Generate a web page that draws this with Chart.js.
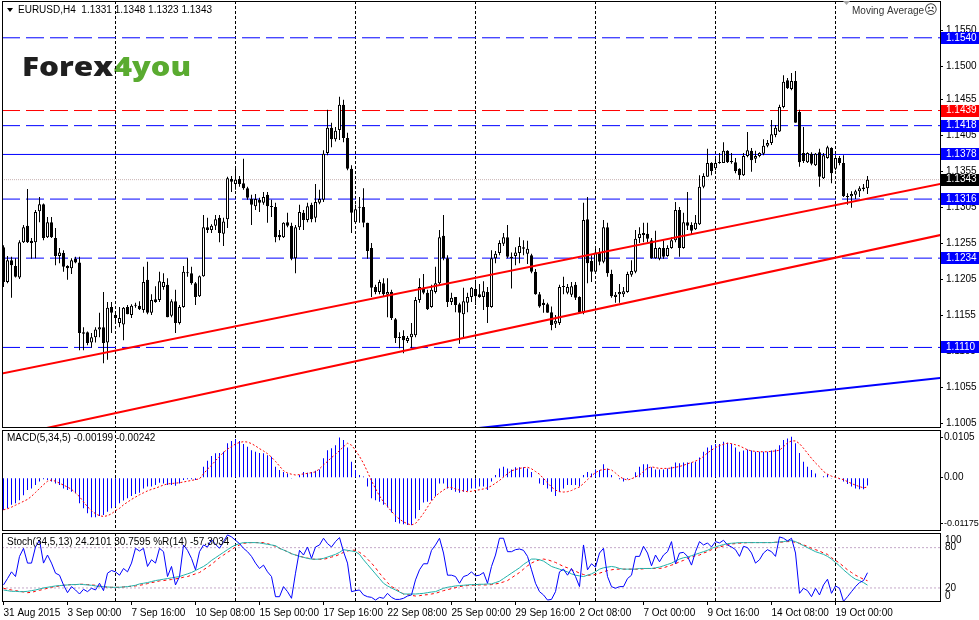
<!DOCTYPE html>
<html>
<head>
<meta charset="utf-8">
<script src="https://cdn.jsdelivr.net/npm/chart.js@4.4.1/dist/chart.umd.min.js"></script>
<style>
html, body { margin: 0; padding: 0; background: #fff; }
#wrap { position: relative; width: 979px; height: 620px; overflow: hidden; background: #fff; }
.pane { position: absolute; left: 0; width: 979px; }
</style>
</head>
<body>
<div id="wrap">
  <div class="pane" style="top:0;height:429px"><canvas id="mainChart"></canvas></div>
  <div class="pane" style="top:429px;height:103px"><canvas id="macdChart"></canvas></div>
  <div class="pane" style="top:532px;height:88px"><canvas id="stochChart"></canvas></div>
</div>
<script>
// EURUSD H4, one row per bar: open, high, low, close
var ohlc = [
  [1.1249,1.1252,1.1194,1.1201],[1.1201,1.1237,1.1199,1.1231],[1.1231,1.1236,1.1179,1.1224],[1.1223,1.1234,1.1207,1.1208],[1.1207,1.1259,1.1205,1.1256],
  [1.1256,1.1280,1.1255,1.1277],[1.1279,1.1330,1.1255,1.1256],[1.1258,1.1262,1.1233,1.1255],[1.1256,1.1301,1.1234,1.1298],[1.1299,1.1319,1.1284,1.1309],
  [1.1309,1.1310,1.1259,1.1262],[1.1263,1.1291,1.1262,1.1284],[1.1284,1.1291,1.1262,1.1263],[1.1262,1.1276,1.1224,1.1237],[1.1237,1.1248,1.1227,1.1242],
  [1.1241,1.1245,1.1215,1.1222],[1.1223,1.1224,1.1204,1.1220],[1.1220,1.1234,1.1212,1.1231],[1.1233,1.1236,1.1227,1.1228],[1.1228,1.1236,1.1106,1.1130],
  [1.1129,1.1138,1.1106,1.1131],[1.1131,1.1132,1.1113,1.1116],[1.1117,1.1130,1.1110,1.1124],[1.1124,1.1138,1.1117,1.1135],[1.1135,1.1158,1.1124,1.1138],
  [1.1138,1.1187,1.1088,1.1116],[1.1117,1.1173,1.1093,1.1165],[1.1166,1.1173,1.1130,1.1158],[1.1155,1.1158,1.1144,1.1151],[1.1144,1.1166,1.1138,1.1151],
  [1.1142,1.1166,1.1120,1.1165],[1.1166,1.1169,1.1156,1.1156],[1.1155,1.1170,1.1151,1.1168],[1.1169,1.1172,1.1165,1.1168],[1.1168,1.1174,1.1162,1.1163],
  [1.1162,1.1222,1.1158,1.1201],[1.1204,1.1229,1.1156,1.1158],[1.1158,1.1184,1.1155,1.1176],[1.1177,1.1195,1.1172,1.1173],[1.1176,1.1215,1.1173,1.1202],
  [1.1194,1.1213,1.1190,1.1201],[1.1197,1.1206,1.1152,1.1152],[1.1154,1.1177,1.1152,1.1174],[1.1174,1.1190,1.1130,1.1144],[1.1144,1.1169,1.1142,1.1166],
  [1.1166,1.1223,1.1165,1.1215],[1.1214,1.1234,1.1208,1.1213],[1.1213,1.1222,1.1197,1.1199],[1.1199,1.1201,1.1169,1.1180],[1.1181,1.1210,1.1180,1.1209],
  [1.1209,1.1294,1.1208,1.1277],[1.1277,1.1290,1.1269,1.1273],[1.1273,1.1281,1.1269,1.1279],[1.1279,1.1294,1.1273,1.1288],[1.1290,1.1294,1.1256,1.1269],
  [1.1268,1.1290,1.1251,1.1285],[1.1288,1.1347,1.1276,1.1345],[1.1344,1.1348,1.1326,1.1340],[1.1337,1.1358,1.1329,1.1343],[1.1344,1.1348,1.1333,1.1337],
  [1.1338,1.1372,1.1329,1.1331],[1.1331,1.1333,1.1315,1.1318],[1.1316,1.1322,1.1280,1.1308],[1.1306,1.1323,1.1301,1.1316],[1.1315,1.1318,1.1298,1.1311],
  [1.1311,1.1326,1.1308,1.1319],[1.1322,1.1326,1.1283,1.1306],[1.1306,1.1315,1.1291,1.1305],[1.1305,1.1311,1.1256,1.1263],[1.1266,1.1273,1.1259,1.1263],
  [1.1263,1.1284,1.1262,1.1283],[1.1284,1.1297,1.1277,1.1279],[1.1279,1.1283,1.1231,1.1233],[1.1234,1.1280,1.1213,1.1277],[1.1277,1.1308,1.1273,1.1298],
  [1.1297,1.1301,1.1273,1.1287],[1.1287,1.1311,1.1284,1.1306],[1.1308,1.1311,1.1284,1.1288],[1.1290,1.1337,1.1284,1.1312],[1.1311,1.1329,1.1309,1.1316],
  [1.1315,1.1384,1.1312,1.1379],[1.1380,1.1440,1.1377,1.1415],[1.1415,1.1422,1.1388,1.1399],[1.1399,1.1416,1.1396,1.1411],[1.1412,1.1458,1.1398,1.1447],
  [1.1447,1.1454,1.1395,1.1401],[1.1401,1.1408,1.1356,1.1358],[1.1358,1.1363,1.1269,1.1297],[1.1284,1.1308,1.1283,1.1302],[1.1305,1.1319,1.1283,1.1304],
  [1.1305,1.1331,1.1277,1.1283],[1.1283,1.1283,1.1233,1.1244],[1.1248,1.1255,1.1180,1.1193],[1.1194,1.1197,1.1184,1.1187],[1.1187,1.1204,1.1184,1.1201],
  [1.1199,1.1206,1.1180,1.1184],[1.1183,1.1206,1.1152,1.1187],[1.1187,1.1190,1.1148,1.1151],[1.1149,1.1151,1.1116,1.1123],[1.1124,1.1131,1.1109,1.1123],
  [1.1126,1.1134,1.1102,1.1120],[1.1119,1.1126,1.1116,1.1123],[1.1124,1.1144,1.1109,1.1129],[1.1127,1.1180,1.1124,1.1176],[1.1176,1.1206,1.1172,1.1194],
  [1.1193,1.1212,1.1184,1.1186],[1.1186,1.1190,1.1162,1.1163],[1.1166,1.1197,1.1165,1.1190],[1.1187,1.1222,1.1185,1.1199],[1.1199,1.1273,1.1197,1.1263],
  [1.1265,1.1294,1.1231,1.1234],[1.1234,1.1238,1.1166,1.1173],[1.1173,1.1186,1.1169,1.1179],[1.1180,1.1180,1.1159,1.1169],[1.1170,1.1172,1.1115,1.1158],
  [1.1156,1.1193,1.1124,1.1174],[1.1172,1.1186,1.1159,1.1180],[1.1180,1.1194,1.1173,1.1193],[1.1191,1.1204,1.1169,1.1181],[1.1184,1.1198,1.1179,1.1180],
  [1.1180,1.1202,1.1162,1.1188],[1.1187,1.1194,1.1144,1.1166],[1.1166,1.1245,1.1165,1.1234],[1.1234,1.1244,1.1227,1.1240],[1.1241,1.1259,1.1238,1.1255],
  [1.1254,1.1269,1.1251,1.1263],[1.1263,1.1280,1.1234,1.1236],[1.1236,1.1242,1.1192,1.1234],[1.1237,1.1249,1.1224,1.1242],[1.1241,1.1263,1.1227,1.1251],
  [1.1249,1.1259,1.1238,1.1247],[1.1240,1.1258,1.1226,1.1247],[1.1238,1.1240,1.1213,1.1215],[1.1215,1.1219,1.1183,1.1184],[1.1184,1.1187,1.1165,1.1167],
  [1.1172,1.1177,1.1158,1.1169],[1.1170,1.1172,1.1158,1.1158],[1.1159,1.1167,1.1134,1.1141],[1.1143,1.1155,1.1137,1.1147],[1.1144,1.1197,1.1141,1.1194],
  [1.1195,1.1208,1.1184,1.1194],[1.1186,1.1198,1.1184,1.1194],[1.1183,1.1201,1.1180,1.1195],[1.1197,1.1201,1.1176,1.1179],[1.1180,1.1181,1.1158,1.1159],
  [1.1159,1.1311,1.1156,1.1287],[1.1288,1.1319,1.1199,1.1227],[1.1230,1.1238,1.1201,1.1215],[1.1215,1.1247,1.1213,1.1242],[1.1241,1.1248,1.1224,1.1229],
  [1.1229,1.1287,1.1227,1.1277],[1.1277,1.1283,1.1208,1.1213],[1.1212,1.1218,1.1179,1.1181],[1.1180,1.1187,1.1172,1.1183],[1.1184,1.1198,1.1172,1.1187],
  [1.1184,1.1194,1.1180,1.1188],[1.1187,1.1215,1.1186,1.1212],[1.1211,1.1231,1.1208,1.1216],[1.1215,1.1273,1.1213,1.1261],[1.1262,1.1277,1.1255,1.1268],
  [1.1266,1.1283,1.1256,1.1269],[1.1268,1.1283,1.1256,1.1261],[1.1259,1.1262,1.1233,1.1234],[1.1234,1.1272,1.1233,1.1248],[1.1233,1.1249,1.1231,1.1248],
  [1.1248,1.1259,1.1233,1.1236],[1.1237,1.1252,1.1236,1.1248],[1.1248,1.1263,1.1247,1.1259],[1.1259,1.1312,1.1256,1.1301],[1.1301,1.1305,1.1236,1.1248],
  [1.1248,1.1297,1.1247,1.1284],[1.1284,1.1326,1.1273,1.1279],[1.1280,1.1284,1.1266,1.1272],[1.1274,1.1294,1.1273,1.1283],[1.1281,1.1349,1.1280,1.1333],
  [1.1333,1.1352,1.1331,1.1348],[1.1347,1.1386,1.1347,1.1366],[1.1366,1.1367,1.1349,1.1355],[1.1359,1.1376,1.1356,1.1366],[1.1366,1.1380,1.1365,1.1367],
  [1.1366,1.1395,1.1366,1.1383],[1.1383,1.1384,1.1366,1.1367],[1.1369,1.1380,1.1365,1.1367],[1.1367,1.1373,1.1352,1.1355],[1.1358,1.1359,1.1343,1.1349],
  [1.1349,1.1380,1.1348,1.1376],[1.1376,1.1409,1.1374,1.1384],[1.1383,1.1387,1.1354,1.1370],[1.1372,1.1383,1.1366,1.1376],[1.1376,1.1381,1.1374,1.1380],
  [1.1379,1.1399,1.1377,1.1390],[1.1390,1.1398,1.1388,1.1394],[1.1394,1.1426,1.1391,1.1406],[1.1405,1.1419,1.1402,1.1415],[1.1410,1.1447,1.1409,1.1444],
  [1.1444,1.1488,1.1442,1.1479],[1.1481,1.1484,1.1469,1.1470],[1.1469,1.1491,1.1467,1.1480],[1.1480,1.1494,1.1422,1.1422],[1.1437,1.1440,1.1361,1.1367],
  [1.1380,1.1416,1.1366,1.1369],[1.1367,1.1381,1.1366,1.1380],[1.1379,1.1381,1.1363,1.1365],[1.1363,1.1380,1.1362,1.1379],[1.1381,1.1386,1.1333,1.1347],
  [1.1345,1.1380,1.1344,1.1377],[1.1373,1.1390,1.1372,1.1388],[1.1387,1.1388,1.1338,1.1352],[1.1358,1.1377,1.1356,1.1373],[1.1373,1.1376,1.1363,1.1366],
  [1.1366,1.1377,1.1319,1.1320],[1.1320,1.1324,1.1308,1.1319],[1.1320,1.1327,1.1304,1.1323],[1.1322,1.1329,1.1316,1.1327],[1.1327,1.1334,1.1319,1.1331],
  [1.1332,1.1337,1.1327,1.1330],[1.1331,1.1348,1.1323,1.1343]
];

var macdMain = [
  -0.0083,-0.0079,-0.0070,-0.0066,-0.0058,-0.0045,-0.0032,-0.0028,-0.0019,-0.0010,
  -0.0004,-0.0006,-0.0010,-0.0015,-0.0019,-0.0028,-0.0032,-0.0036,-0.0040,-0.0066,
  -0.0079,-0.0092,-0.0102,-0.0102,-0.0099,-0.0096,-0.0088,-0.0079,-0.0075,-0.0066,
  -0.0059,-0.0053,-0.0047,-0.0042,-0.0039,-0.0028,-0.0023,-0.0023,-0.0019,-0.0013,
  -0.0015,-0.0019,-0.0019,-0.0021,-0.0015,-0.0006,-0.0004,-0.0004,-0.0006,-0.0002,
  0.0028,0.0044,0.0056,0.0063,0.0064,0.0067,0.0089,0.0095,0.0100,0.0095,
  0.0087,0.0080,0.0071,0.0067,0.0064,0.0063,0.0058,0.0054,0.0028,0.0020,
  0.0015,0.0011,-0.0002,0.0001,0.0007,0.0015,0.0013,0.0015,0.0018,0.0021,
  0.0050,0.0071,0.0076,0.0084,0.0104,0.0097,0.0078,0.0041,0.0020,0.0007,
  0.0003,-0.0023,-0.0053,-0.0058,-0.0062,-0.0070,-0.0077,-0.0090,-0.0114,-0.0118,
  -0.0120,-0.0122,-0.0122,-0.0105,-0.0083,-0.0064,-0.0062,-0.0058,-0.0047,-0.0015,
  -0.0015,-0.0028,-0.0032,-0.0036,-0.0039,-0.0036,-0.0034,-0.0028,-0.0028,-0.0023,
  -0.0023,-0.0032,-0.0010,0.0007,0.0024,0.0028,0.0024,0.0021,0.0027,0.0027,
  0.0027,0.0024,0.0015,0.0001,-0.0015,-0.0019,-0.0028,-0.0036,-0.0047,-0.0036,
  -0.0028,-0.0019,-0.0019,-0.0019,-0.0023,0.0007,0.0015,0.0011,0.0021,0.0020,
  0.0035,0.0024,0.0007,0.0001,-0.0004,-0.0010,-0.0004,-0.0002,0.0014,0.0028,
  0.0035,0.0035,0.0027,0.0021,0.0021,0.0021,0.0024,0.0028,0.0039,0.0037,
  0.0039,0.0039,0.0039,0.0041,0.0052,0.0067,0.0078,0.0084,0.0087,0.0087,
  0.0093,0.0090,0.0087,0.0078,0.0067,0.0070,0.0073,0.0070,0.0067,0.0067,
  0.0067,0.0067,0.0070,0.0073,0.0084,0.0097,0.0101,0.0106,0.0089,0.0064,
  0.0041,0.0028,0.0020,0.0011,0.0001,0.0004,0.0009,-0.0002,0.0000,-0.0004,
  -0.0010,-0.0016,-0.0023,-0.0028,-0.0030,-0.0030,-0.00199
];

var macdSignal = [
  -0.0083,-0.0080,-0.0076,-0.0071,-0.0066,-0.0061,-0.0056,-0.0048,-0.0038,-0.0028,
  -0.0018,-0.0009,-0.0006,-0.0009,-0.0014,-0.0019,-0.0024,-0.0030,-0.0039,-0.0049,
  -0.0062,-0.0075,-0.0085,-0.0093,-0.0098,-0.0100,-0.0098,-0.0093,-0.0085,-0.0079,
  -0.0070,-0.0063,-0.0056,-0.0050,-0.0044,-0.0039,-0.0034,-0.0030,-0.0027,-0.0023,
  -0.0019,-0.0016,-0.0015,-0.0014,-0.0013,-0.0011,-0.0009,-0.0007,-0.0005,-0.0003,
  0.0010,0.0022,0.0032,0.0044,0.0055,0.0065,0.0074,0.0080,0.0087,0.0091,
  0.0093,0.0092,0.0088,0.0082,0.0075,0.0069,0.0062,0.0053,0.0042,0.0030,
  0.0018,0.0012,0.0009,0.0007,0.0008,0.0010,0.0011,0.0013,0.0015,0.0023,
  0.0033,0.0042,0.0052,0.0060,0.0070,0.0080,0.0089,0.0084,0.0071,0.0055,
  0.0037,0.0015,-0.0008,-0.0028,-0.0047,-0.0062,-0.0074,-0.0087,-0.0098,-0.0107,
  -0.0114,-0.0119,-0.0122,-0.0118,-0.0106,-0.0092,-0.0076,-0.0060,-0.0048,-0.0039,
  -0.0032,-0.0025,-0.0025,-0.0029,-0.0032,-0.0034,-0.0036,-0.0035,-0.0033,-0.0031,
  -0.0029,-0.0026,-0.0021,-0.0014,-0.0007,0.0002,0.0010,0.0018,0.0021,0.0024,
  0.0026,0.0027,0.0023,0.0016,0.0009,-0.0002,-0.0013,-0.0024,-0.0032,-0.0036,
  -0.0037,-0.0036,-0.0033,-0.0028,-0.0024,-0.0015,-0.0005,0.0005,0.0013,0.0019,
  0.0021,0.0022,0.0020,0.0012,0.0003,-0.0003,-0.0006,-0.0003,0.0002,0.0007,
  0.0016,0.0025,0.0028,0.0026,0.0024,0.0024,0.0024,0.0025,0.0027,0.0029,
  0.0032,0.0036,0.0039,0.0043,0.0047,0.0055,0.0064,0.0071,0.0078,0.0083,
  0.0086,0.0089,0.0088,0.0085,0.0082,0.0077,0.0072,0.0069,0.0068,0.0067,
  0.0067,0.0067,0.0068,0.0069,0.0071,0.0080,0.0090,0.0095,0.0095,0.0088,
  0.0076,0.0063,0.0050,0.0038,0.0028,0.0016,0.0009,0.0004,0.0001,-0.0002,
  -0.0005,-0.0010,-0.0015,-0.0019,-0.0023,-0.0026,-0.00242
];

var stochMain = [
  17,16,15,15,14.5,14.5,15,16,17,18.5,
  20,21,22,23,23.5,24,24.5,25,25,25.5,
  25,24.5,24,23,22,22,21.5,21,21,21,
  21.5,22,23,24,26,27,28,29.5,31,32,
  33,34,35,36,37,39,41,43,46,49,
  52,56,61,65,69,73,77,81,84,86,
  87.5,87.5,87.5,87.5,87,86,85,84,83,79,
  76.5,74,71,69,67,65.6,64,63,62.7,63,
  64,66,68,70,73,77,76,75,74,70,
  62,55,48,41,34,27,23,20,17,14,
  11,11,11,11,11.5,12,13,14,14.5,17,
  19.5,21,22,23,23.5,24,24.5,25,25,25.5,
  25.5,26,26,28,30,34,38,42,46,50,
  55,59,63,63,62,60,56,52,50,48,
  46,44,41,39,38,37,39,41,44,48,
  50,51,52,51,49,48,48,48,48,49,
  49,49,49,50,51,53,55,57,60,63,
  65,66,68,70,72,74,76,79,81,83,
  84.5,86,86.5,87,87.5,87.5,87.5,87.5,87.5,87.5,
  87.5,87.5,87.5,88,88.5,89,90,90.5,89,86,
  83,80,77,74,72,70,67,63,58,53,
  47,42,37,33,31,28,24.2101
];

var stochSignal = [
  19.5,18,17,16,15,14,13,13.5,15,16.5,
  18,19.5,21,22,23,24,24.5,25,25,25.5,
  25.5,25,24.5,24,23,22,21,21,21,21,
  21.5,22,22.5,23,24,25,26.5,28,29,30.5,
  31,32,32.5,33.5,34.5,36,37,39,41,43,
  47,51,55,60,65,69,73,77,81,84,
  86.5,87,87.5,87.5,87.5,87.5,86,84,82,79,
  76.5,74,71,69,67.5,65.6,64.5,63,62.7,62.7,
  62.7,64,66,67.5,70,73,75,76.5,76,73,
  69,63,57,50,42,35,28,22,19,15,
  11,10,9,8,8.5,9.5,10,11,12,14,
  16,17.5,19,20.5,22,23,23.5,24,24.5,24.5,
  24.5,24.5,25,26,27,29,31,35,39,43,
  48,53,57,60,62,63,62,60,58,55,
  52,50,47,45,42,40,39,39,40,42,
  44,46,47,48,48,48,48,48,48,48,
  48.5,49,49,49,49,50,52,54,56,59,
  61,64,66,68,69,72,74,77,79,81,
  82.5,84,85.5,86,86.5,87,87.5,87.5,87.5,87.5,
  87.5,87.5,87.5,88,88,88.5,89,89,88,86.5,
  84,82,79,77,75,72,70,65,61,57,
  52,47,43,39,36,33,30.7595
];

// Williams %R(14), native range -100..0, drawn in the same window
var willR = [
  -75.5,-66,-56,-63,-33,-21,-43,-43,-19,-9,
  -43,-31,-43,-58,-61,-75.5,-87,-78,-83,-89,
  -82,-85.5,-80.5,-83,-73,-84,-58,-54,-56,-61,
  -51,-56,-43,-21,-25,-21,-48,-38,-43,-21,
  -26,-63,-48,-75.5,-63,-16,-24,-36,-53,-26,
  -16,-19,-8,-15,-21,-11,-1,-4,-9,-14,
  -21,-26,-33,-43,-51,-46,-56,-63,-93,-93,
  -78,-85.5,-95.4,-58,-24,-31,-19,-36,-19,-16,
  -6,-14,-19,-11,-5,-26,-43,-85.5,-84,-83,
  -90.4,-93,-94,-98,-94,-95.4,-88,-94,-97,-97,
  -95.4,-92,-90.4,-68,-53,-44,-44,-24,-16,-6,
  -28,-61,-61,-63,-73,-63,-61,-56,-62,-61,
  -57,-73,-48,-31,-6,-6,-26,-26,-23,-22,
  -24,-33,-53,-73,-85.5,-90.4,-98,-97,-85.5,-56,
  -52,-61,-51,-63,-78,-16,-53,-44,-49,-28,
  -21,-63,-78,-80.5,-78,-78,-66,-61,-33,-33,
  -18,-28,-47,-31,-41,-31,-26,-11,-44,-28,
  -27,-33,-46,-26,-11,-16,-13,-19,-11,-13,
  -9,-16,-19,-23,-33,-18,-20,-28,-43,-38,
  -28,-23,-26,-33,-4,-6,-10,-6,-28,-88,
  -80.5,-84,-93,-80.5,-90.4,-75.5,-67,-88,-77,-80.5,
  -100,-93,-85.5,-78,-72,-69,-57.3034
];

var xLabels = ['31 Aug 2015', '3 Sep 00:00', '7 Sep 16:00', '10 Sep 08:00', '15 Sep 00:00', '17 Sep 16:00',
  '22 Sep 08:00', '25 Sep 00:00', '29 Sep 16:00', '2 Oct 08:00', '7 Oct 00:00', '9 Oct 16:00',
  '14 Oct 08:00', '19 Oct 00:00'];
var LABEL_STEP = 16;
var weekStarts = [28, 58, 88, 118, 148, 178, 208];

var priceTicks = [1.1550, 1.1500, 1.1455, 1.1405, 1.1355, 1.1305, 1.1255, 1.1205, 1.1155, 1.1105, 1.1055, 1.1005];
var macdTicks = [0.0105, 0, -0.01175];
var macdTickLabels = ['0.0105', '0.00', '-0.01175'];
var stochTicks = [100, 80, 20, 0];
var stochLevels = [80, 20];

var blueDashLevels = [1.1540, 1.1418, 1.1316, 1.1234, 1.1110];
var redDashLevels = [1.1439];
var blueSolidLevels = [1.1378];

// trend lines as [bar, price] anchor pairs
var channelUpper = [[-1, 1.1073], [235, 1.1338]];
var channelLower = [[-1, 1.0984], [235, 1.1267]];
var longTrend = [[-1, 1.0926], [235, 1.1068]];

var SYMBOL = 'EURUSD,H4';
var X_MIN = -0.375, X_MAX = 234.125;
var FONT = '10px "Liberation Sans", Arial, sans-serif';

Chart.defaults.font.family = '"Liberation Sans", Arial, sans-serif';
Chart.defaults.font.size = 10;
Chart.defaults.color = '#000';

var last = ohlc.length - 1;

function rightAxisFit(s) {
  s.width = 39;
  s.paddingTop = 0;
  s.paddingBottom = 0;
}

function xAxis(show) {
  return {
    type: 'linear', min: X_MIN, max: X_MAX, bounds: 'data', offset: false, display: show,
    grid: { display: show, drawOnChartArea: false, drawTicks: true, tickLength: 3, color: '#000', offset: false },
    border: { display: false },
    ticks: {
      autoSkip: false, maxRotation: 0, minRotation: 0, align: 'start', padding: 2,
      callback: function (v) { return xLabels[Math.round(v / LABEL_STEP)]; }
    },
    afterBuildTicks: function (s) {
      s.ticks = xLabels.map(function (t, k) { return { value: k * LABEL_STEP }; });
    },
    afterFit: function (s) {
      s.height = show ? 18 : 0;
      s.paddingLeft = 0;
      s.paddingRight = 0;
    }
  };
}

function baseOptions(padBottom) {
  return {
    animation: false,
    responsive: true,
    maintainAspectRatio: false,
    devicePixelRatio: 1,
    events: [],
    layout: { padding: { left: 2, top: 1, right: 0, bottom: padBottom } },
    plugins: { legend: { display: false }, tooltip: { enabled: false } }
  };
}

function hline(v, color, dash, order) {
  return {
    type: 'line', data: [{ x: X_MIN, y: v }, { x: X_MAX, y: v }],
    borderColor: color, borderWidth: 1, borderDash: dash, pointRadius: 0, order: order
  };
}

function segment(pts, color) {
  return {
    type: 'line', data: pts.map(function (p) { return { x: p[0], y: p[1] }; }),
    borderColor: color, borderWidth: 2, pointRadius: 0, order: 0
  };
}

function drawSeparators(chart) {
  var ctx = chart.ctx, a = chart.chartArea, xs = chart.scales.x;
  ctx.save();
  ctx.strokeStyle = '#000';
  ctx.lineWidth = 1;
  ctx.setLineDash([3, 2]);
  weekStarts.forEach(function (b) {
    var px = xs.getPixelForValue(b);
    ctx.beginPath();
    ctx.moveTo(px, a.top);
    ctx.lineTo(px, a.bottom);
    ctx.stroke();
  });
  ctx.restore();
}

function drawFrame(chart) {
  var ctx = chart.ctx, a = chart.chartArea;
  ctx.save();
  ctx.strokeStyle = '#000';
  ctx.lineWidth = 1;
  ctx.strokeRect(a.left + 0.5, a.top + 0.5, a.right - a.left, a.bottom - a.top - 1);
  ctx.restore();
}

function label(ctx, text, x, y, color, font) {
  ctx.save();
  ctx.font = font || FONT;
  ctx.fillStyle = color || '#000';
  ctx.textBaseline = 'middle';
  ctx.textAlign = 'left';
  ctx.fillText(text, x, y);
  ctx.restore();
}

function fitText(ctx, txt, x, y, w, color) {
  var m = ctx.measureText(txt).width;
  ctx.save();
  ctx.translate(x, y);
  ctx.scale(w / m, 1);
  ctx.fillStyle = color;
  ctx.fillText(txt, 0, 0);
  ctx.restore();
}

function drawLogo(ctx) {
  ctx.save();
  ctx.font = '800 27px "Open Sans", "Liberation Sans", sans-serif';
  ctx.textBaseline = 'alphabetic';
  fitText(ctx, 'Forex', 22, 76, 91, '#1f1f1f');
  fitText(ctx, '4you', 114, 76, 77, '#5aab30');
  ctx.restore();
}

// ---------- main price pane ----------
var mainPlugin = {
  id: 'mainPane',
  beforeDatasetsDraw: function (chart) {
    drawLogo(chart.ctx);
    drawSeparators(chart);
  },
  afterDraw: function (chart) {
    var ctx = chart.ctx, a = chart.chartArea, ys = chart.scales.y;
    drawFrame(chart);

    var boxes = [];
    blueDashLevels.concat(blueSolidLevels).forEach(function (v) { boxes.push([v, '#0000ff']); });
    redDashLevels.forEach(function (v) { boxes.push([v, '#ff0000']); });
    boxes.push([ohlc[last][3], '#000000']);
    boxes.forEach(function (b) {
      var y = ys.getPixelForValue(b[0]);
      ctx.fillStyle = b[1];
      ctx.fillRect(a.right + 1, Math.round(y) - 6, 39, 12);
      label(ctx, b[0].toFixed(4), a.right + 6, y, '#fff');
    });

    ctx.save();
    ctx.fillStyle = '#000';
    ctx.beginPath();
    ctx.moveTo(7, 8); ctx.lineTo(13, 8); ctx.lineTo(10, 12); ctx.closePath();
    ctx.fill();
    ctx.fillStyle = '#a8a8a8';
    ctx.beginPath();
    ctx.moveTo(843, 1); ctx.lineTo(850, 1); ctx.lineTo(846.5, 5); ctx.closePath();
    ctx.fill();
    ctx.restore();
    label(ctx, SYMBOL + '  ' + ohlc[last].map(function (v) { return v.toFixed(4); }).join(' '), 18, 10);
    label(ctx, 'Moving Average', 852, 11, '#333');
    label(ctx, '\u2639', 924, 11, '#333', '13px "DejaVu Sans", sans-serif');
  }
};

var mainDatasets = [
  {
    label: 'wick',
    data: ohlc.map(function (c, i) { return { x: i, y: [c[2], c[1]] }; }),
    backgroundColor: '#000', barThickness: 1, grouped: false, inflateAmount: 0, order: 2
  },
  {
    label: 'body',
    data: ohlc.map(function (c, i) { return { x: i, y: [c[0], c[3]] }; }),
    backgroundColor: function (c) {
      var d = ohlc[c.dataIndex];
      return d && d[3] >= d[0] ? '#fff' : '#000';
    },
    borderColor: '#000', borderWidth: 1, borderSkipped: false, minBarLength: 1,
    barThickness: 3, grouped: false, inflateAmount: 0, order: 1
  },
  hline(ohlc[last][3], '#c8b4b4', [1, 1], 4)
];
blueDashLevels.forEach(function (v) { mainDatasets.push(hline(v, '#0000ff', [18, 6], 3)); });
redDashLevels.forEach(function (v) { mainDatasets.push(hline(v, '#ff0000', [18, 6], 3)); });
blueSolidLevels.forEach(function (v) { mainDatasets.push(hline(v, '#0000ff', [], 3)); });
mainDatasets.push(segment(channelUpper, '#ff0000'));
mainDatasets.push(segment(channelLower, '#ff0000'));
mainDatasets.push(segment(longTrend, '#0000ff'));

var mainOpts = baseOptions(1);
mainOpts.scales = {
  x: xAxis(false),
  y: {
    position: 'right', min: 1.09981, max: 1.15911, bounds: 'data', beginAtZero: false,
    afterBuildTicks: function (s) { s.ticks = priceTicks.map(function (v) { return { value: v }; }); },
    ticks: { padding: 3, callback: function (v) { return v.toFixed(4); } },
    grid: { drawOnChartArea: false, drawTicks: true, tickLength: 3, color: '#000' },
    border: { display: false },
    afterFit: rightAxisFit
  }
};

new Chart(document.getElementById('mainChart'), {
  type: 'bar',
  data: { datasets: mainDatasets },
  options: mainOpts,
  plugins: [mainPlugin]
});

// ---------- MACD pane ----------
var macdOpts = baseOptions(1);
macdOpts.scales = {
  x: xAxis(false),
  y: {
    position: 'right', min: -0.01375, max: 0.01231, bounds: 'data', beginAtZero: false,
    afterBuildTicks: function (s) { s.ticks = macdTicks.map(function (v) { return { value: v }; }); },
    ticks: {
      padding: 1,
      font: function (c) { return { size: c.index === 2 ? 9 : 10 }; },
      callback: function (v, i) { return macdTickLabels[i]; }
    },
    grid: { drawOnChartArea: false, drawTicks: true, tickLength: 3, color: '#000' },
    border: { display: false },
    afterFit: rightAxisFit
  }
};

new Chart(document.getElementById('macdChart'), {
  type: 'bar',
  data: {
    datasets: [
      {
        label: 'MACD',
        data: macdMain.map(function (v, i) { return { x: i, y: v }; }),
        backgroundColor: '#0000ff', barThickness: 1, grouped: false, inflateAmount: 0, order: 2
      },
      {
        type: 'line', label: 'Signal',
        data: macdSignal.map(function (v, i) { return { x: i, y: v }; }),
        borderColor: '#ff0000', borderWidth: 1, borderDash: [2, 2], pointRadius: 0, order: 1
      }
    ]
  },
  options: macdOpts,
  plugins: [{
    id: 'macdPane',
    beforeDatasetsDraw: drawSeparators,
    afterDraw: function (chart) {
      drawFrame(chart);
      label(chart.ctx, 'MACD(5,34,5) ' + macdMain[last].toFixed(5) + ' ' + macdSignal[last].toFixed(5), 7, 9.5);
    }
  }]
});

// ---------- Stochastic / %R pane ----------
var stochOpts = baseOptions(0);
stochOpts.scales = {
  x: xAxis(true),
  y: {
    position: 'right', min: -0.9, max: 101.8, bounds: 'data',
    ticks: { display: false },
    grid: { display: false },
    border: { display: false },
    afterFit: rightAxisFit
  }
};

var stochSets = [
  {
    label: '%R', data: willR.map(function (v, i) { return { x: i, y: v + 100 }; }),
    borderColor: '#0000ff', borderWidth: 1, pointRadius: 0, order: 0
  },
  {
    label: 'Main', data: stochMain.map(function (v, i) { return { x: i, y: v }; }),
    borderColor: '#20b2aa', borderWidth: 1, pointRadius: 0, order: 1
  },
  {
    label: 'Signal', data: stochSignal.map(function (v, i) { return { x: i, y: v }; }),
    borderColor: '#ff0000', borderWidth: 1, borderDash: [3, 3], pointRadius: 0, order: 2
  }
];
stochLevels.forEach(function (v) { stochSets.push(hline(v, '#c4a8c8', [2, 2], 3)); });

new Chart(document.getElementById('stochChart'), {
  type: 'line',
  data: { datasets: stochSets },
  options: stochOpts,
  plugins: [{
    id: 'stochPane',
    beforeDatasetsDraw: drawSeparators,
    afterDraw: function (chart) {
      var a = chart.chartArea, ys = chart.scales.y;
      drawFrame(chart);
      stochTicks.forEach(function (v) {
        var y = Math.min(Math.max(ys.getPixelForValue(v), a.top + 7), a.bottom - 6);
        label(chart.ctx, String(v), a.right + 5, y);
      });
      label(chart.ctx, 'Stoch(34,5,13) ' + stochMain[last].toFixed(4) + ' ' + stochSignal[last].toFixed(4) +
        ' %R(14) ' + willR[last].toFixed(4), 7, 10.5);
    }
  }]
});
</script>
</body>
</html>
